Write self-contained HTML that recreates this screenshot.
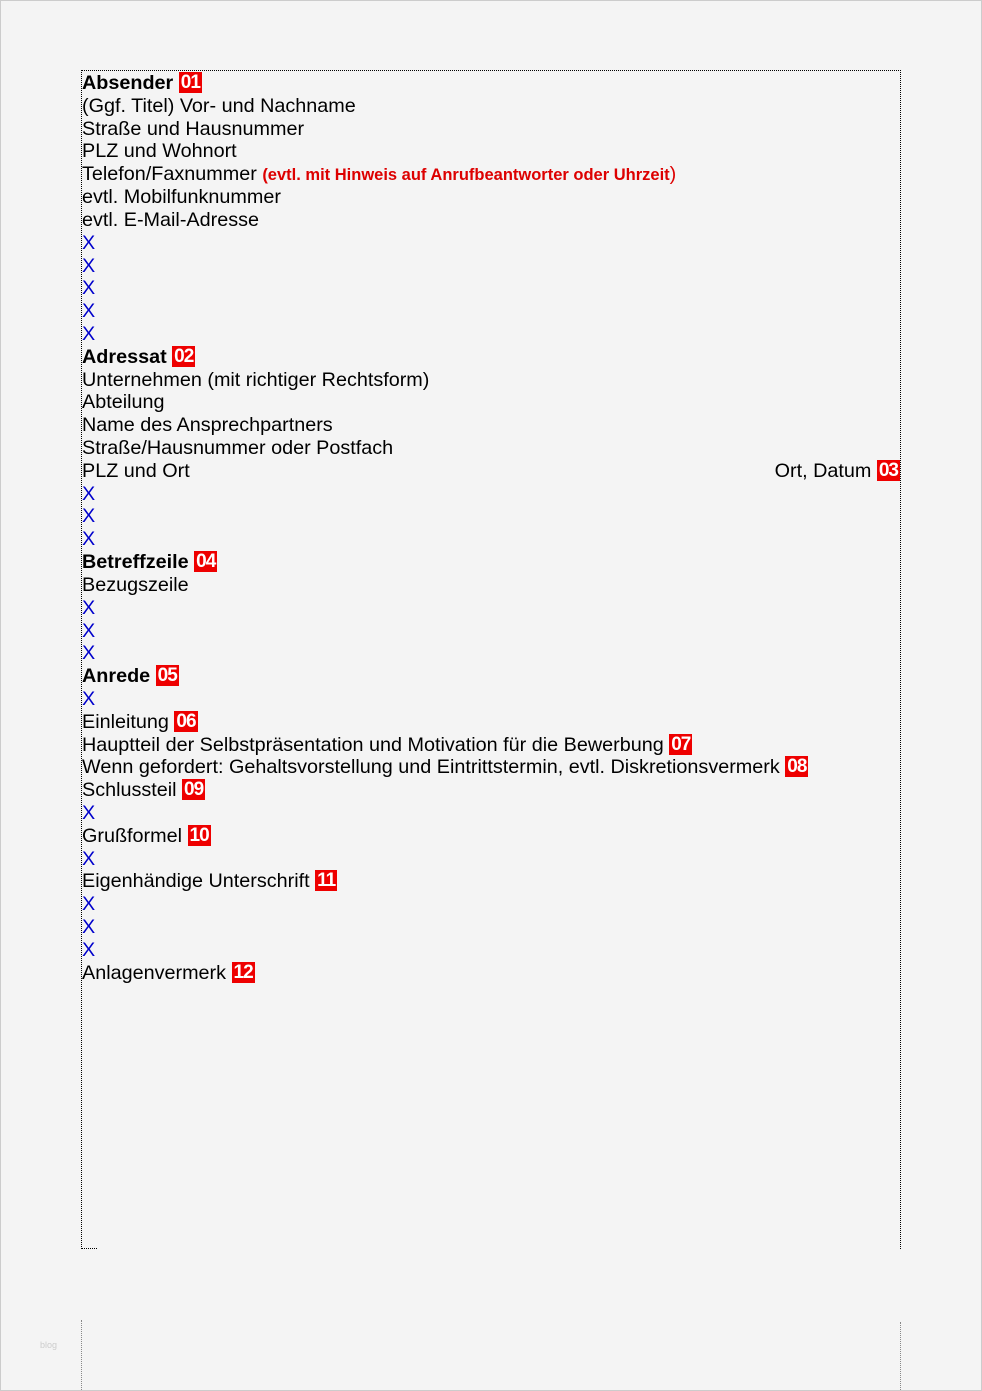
<!DOCTYPE html>
<html><head><meta charset="utf-8"><style>
body{margin:0;background:#f4f4f4;}
.page{position:absolute;left:0;top:0;width:980px;height:1389px;border:1px solid #ccc;background:#f4f4f4;}
.box{position:absolute;left:81px;top:70px;width:818px;height:1178px;border:1px dotted #000;border-bottom:none;}
.bl{position:absolute;left:81px;top:1248px;width:16px;border-top:1px dotted #000;}
.f1{position:absolute;left:81px;top:1320px;height:70px;border-left:1px dotted #888;}
.f2{position:absolute;left:900px;top:1322px;height:68px;border-left:1px dotted #888;}
.t{position:absolute;left:82px;top:72px;font-family:"Liberation Sans",sans-serif;font-size:19.8px;line-height:22.82px;color:#000;white-space:nowrap;width:818px;}
.t div{height:22.82px;}
b{font-weight:bold;}
.x{color:#00c;}
.n{display:inline-block;background:#e00;color:#fff;font-weight:bold;font-size:19px;line-height:21px;padding:0 2px;letter-spacing:-1px;vertical-align:top;margin-top:0px;}
.r{color:#d00;font-weight:bold;font-size:16.5px;}
.right{float:right;}
</style></head><body>
<div class="page"></div>
<div class="box"></div><div class="bl"></div>
<div class="f1"></div><div class="f2"></div>
<div style="position:absolute;left:40px;top:1340px;font:9px 'Liberation Sans',sans-serif;color:#ccc;">blog</div>
<div class="t">
<div><b>Absender</b> <span class="n">01</span></div>
<div>(Ggf. Titel) Vor- und Nachname</div>
<div>Straße und Hausnummer</div>
<div>PLZ und Wohnort</div>
<div>Telefon/Faxnummer <span class="r">(evtl. mit Hinweis auf Anrufbeantworter oder Uhrzeit</span><span style="color:#d00">)</span></div>
<div>evtl. Mobilfunknummer</div>
<div>evtl. E-Mail-Adresse</div>
<div class="x">X</div><div class="x">X</div><div class="x">X</div><div class="x">X</div><div class="x">X</div>
<div><b>Adressat</b> <span class="n">02</span></div>
<div>Unternehmen (mit richtiger Rechtsform)</div>
<div>Abteilung</div>
<div>Name des Ansprechpartners</div>
<div>Straße/Hausnummer oder Postfach</div>
<div>PLZ und Ort<span class="right">Ort, Datum <span class="n">03</span></span></div>
<div class="x">X</div><div class="x">X</div><div class="x">X</div>
<div><b>Betreffzeile</b> <span class="n">04</span></div>
<div>Bezugszeile</div>
<div class="x">X</div><div class="x">X</div><div class="x">X</div>
<div><b>Anrede</b> <span class="n">05</span></div>
<div class="x">X</div>
<div>Einleitung <span class="n">06</span></div>
<div>Hauptteil der Selbstpräsentation und Motivation für die Bewerbung <span class="n">07</span></div>
<div>Wenn gefordert: Gehaltsvorstellung und Eintrittstermin, evtl. Diskretionsvermerk <span class="n">08</span></div>
<div>Schlussteil <span class="n">09</span></div>
<div class="x">X</div>
<div>Grußformel <span class="n">10</span></div>
<div class="x">X</div>
<div>Eigenhändige Unterschrift <span class="n">11</span></div>
<div class="x">X</div><div class="x">X</div><div class="x">X</div>
<div>Anlagenvermerk <span class="n">12</span></div>
</div>
</body></html>
